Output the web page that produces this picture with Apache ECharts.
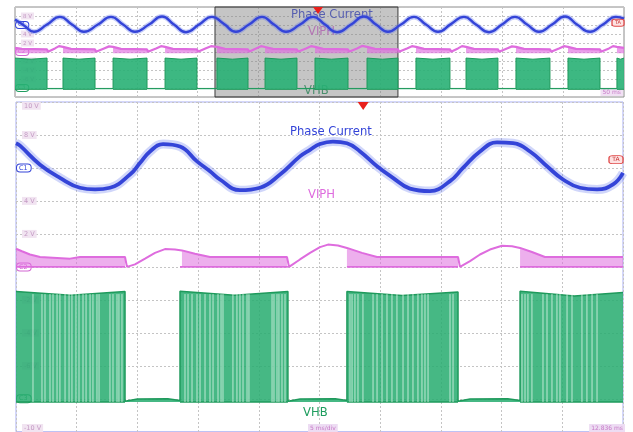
<!DOCTYPE html>
<html><head><meta charset="utf-8">
<script src="https://cdn.jsdelivr.net/npm/echarts@6/dist/echarts.min.js"></script>
<style>html,body{margin:0;padding:0;background:#fff;}#c{width:633px;height:432px;}</style>
</head><body><div id="c"></div>
<script>
// ===== Main window (5 ms/div, 2 V/div) =====
const channelMarkers = {6: 'C1', 0: 'C2', '-8': 'C3'};
const triggerLevel = 6.5;        // V (TA marker)
const triggerTime = 28.6;        // ms (main window)
const mainTimeMax = 50;

const phaseTime = [0,0.33,1.98,3.62,5.27,6.51,7.74,9.39,10.21,11.04,12.11,13.51,14.91,15.98,16.80,18.45,20.10,21.75,23.39,24.22,25.04,26.11,27.26,28.34,29.74,31.05,32.45,34.10,35.75,36.82,38.22,39.62,40.94,42.34,43.74,45.06,46.46,47.86,49.18,50];
const phaseCurrent = [7.5,7.35,6.2,5.4,4.8,4.7,4.8,5.6,6.3,7.0,7.45,7.3,6.4,5.8,5.3,4.65,4.8,5.6,6.7,7.1,7.45,7.6,7.5,7.0,6.1,5.4,4.75,4.6,5.2,6.0,7.0,7.55,7.5,7.0,6.1,5.3,4.8,4.7,5.0,5.7];

const viphTime = [0,0.49,1.15,1.98,4.45,5.27,8.98,9.14,9.80,10.63,11.45,12.27,13.10,13.67,14.74,15.98,22.32,22.49,23.39,24.22,25.04,25.70,26.52,27.26,28.50,29.74,36.41,36.57,37.40,38.22,39.04,40.03,40.86,41.52,42.50,43.57,50];
const viphValue = [1.1,0.95,0.75,0.6,0.5,0.6,0.6,0.0,0.15,0.5,0.85,1.08,1.05,1.0,0.8,0.6,0.6,0.0,0.45,0.85,1.2,1.35,1.3,1.15,0.85,0.6,0.6,0.0,0.35,0.75,1.05,1.28,1.25,1.15,0.9,0.6,0.6];

const vhbBlockStart = [0, 13.51, 27.26, 41.52];
const vhbBlockEnd = [8.98, 22.40, 36.41, 50];
const vhbTime = [0,4.5,8.98,8.98,10.0,12.5,13.51,13.51,18.0,22.40,22.40,23.4,26.3,27.26,27.26,31.8,36.41,36.41,37.4,40.5,41.52,41.52,46.0,50];
const vhbValue = [-1.5,-1.72,-1.5,-8.15,-8.02,-8.0,-8.1,-1.48,-1.72,-1.5,-8.15,-8.02,-8.0,-8.1,-1.5,-1.74,-1.52,-8.15,-8.02,-8.0,-8.1,-1.48,-1.76,-1.55];
const vhbFloor = -8.2;
const vhbStripeTop = -1.65;
const vhbStripeTimes = [1.40,2.14,2.39,2.80,3.05,3.38,3.62,4.04,4.37,4.61,4.94,5.19,5.52,5.77,6.10,6.34,6.67,6.84,7.74,7.99,8.32,8.48,8.73,
  13.92,14.17,14.50,14.91,15.16,15.57,15.98,16.23,16.64,16.89,17.05,17.87,18.20,18.45,18.70,19.03,19.19,21.09,21.25,21.50,21.66,21.91,22.16,
  27.51,27.68,27.92,28.17,28.58,29.41,29.74,30.15,30.56,30.97,31.38,31.88,32.29,32.70,33.11,33.44,33.69,33.94,35.75,36.00,
  41.68,41.93,42.17,42.50,43.41,43.74,44.15,44.56,44.81,45.39,45.80,46.62,47.03,47.45,47.86];

// ===== Overview (50 ms/div) =====
const ovTimeMax = 500;
const ovWindowStart = 164.2, ovWindowEnd = 314.4;
const ovTriggerTime = 248.8;
const ovPhaseTime = [0,7.4,15.6,26.3,36.9,46.8,56.6,68.1,78.8,88.7,98.5,110.0,120.7,130.5,140.4,151.1,161.7,171.6,181.4,192.1,202.8,212.6,222.5,234.0,244.7,254.5,264.4,275.9,286.5,296.4,306.2,316.9,327.6,337.4,347.3,357.9,368.6,378.5,389.2,399.8,410.5,420.4,430.2,440.9,451.6,461.4,472.1,482.7,493.4,500];
const ovPhaseCurrent = [7.2,5.9,4.5,6.1,7.8,6.1,4.5,6.1,7.8,6.1,4.5,6.1,7.9,6.1,4.4,6.1,7.8,6.2,4.5,6.1,7.8,6.1,4.5,6.1,7.8,6.1,4.4,6.1,7.9,6.1,4.5,6.1,7.8,6.1,4.5,6.2,7.8,6.1,4.4,6.1,7.8,6.1,4.5,6.1,7.9,6.1,4.5,6.1,7.8,7.4];
const ovViphTime = [0,5.7,26.3,27.1,32.8,36.1,39.4,46.0,65.7,66.5,73.1,77.2,80.5,87.0,108.4,109.2,115.8,119.9,123.2,129.7,149.4,150.2,156.8,160.9,165.8,172.4,191.3,192.1,197.9,202.0,205.3,211.8,231.5,232.3,238.9,243.0,246.3,252.9,273.4,274.2,280.8,284.9,289.0,295.6,314.4,315.3,321.8,325.9,329.2,335.8,357.1,358.0,363.7,367.0,370.3,376.8,396.5,397.4,403.9,408.0,411.3,417.9,439.2,440.1,446.6,450.7,454.0,460.6,480.3,481.1,487.7,491.0,494.2,500];
const ovViphValue = [0.9,0.7,
  0.6,0.05,0.8,1.3,1.15,0.7, 0.6,0.05,0.8,1.25,1.15,0.7, 0.6,0.05,0.8,1.3,1.15,0.7, 0.6,0.05,0.85,1.3,1.15,0.7,
  0.6,0.05,0.8,1.3,1.1,0.7, 0.6,0.05,0.8,1.3,1.15,0.7, 0.6,0.05,0.8,1.35,1.15,0.7, 0.6,0.05,0.8,1.3,1.15,0.7,
  0.6,0.05,0.8,1.3,1.15,0.7, 0.6,0.05,0.8,1.25,1.15,0.7, 0.6,0.05,0.8,1.3,1.15,0.7, 0.6,0.05,0.8,1.3,1.15,0.9];
const ovBlockStart = [0,39.4,80.5,123.2,165.8,205.3,246.3,289.0,329.2,370.3,411.3,454.0,494.2];
const ovBlockEnd = [26.3,65.7,108.4,149.4,191.3,231.5,273.4,314.4,357.1,396.5,439.2,480.3,500];
const ovTopEdge = -1.35, ovTopMid = -1.6, ovGapLevel = -8.1, ovFloor = -8.3;

// ===== build helpers =====
const FONT = 'DejaVu Sans';
const BLUE = '#3444d8', PINK = '#de6cde', GREEN_LINE = '#1f9a5c';
function pairs(xs, ys){ return xs.map((x,i)=>[x, ys[i]]); }
function inBlocks(t, s, e){ for (let i=0;i<s.length;i++){ if (t>=s[i]-1e-6 && t<=e[i]+1e-6) return true; } return false; }
function bandData(xs, ys, s, e){ return xs.map((x,i)=> inBlocks(x,s,e) ? [x, ys[i]] : [x, '-']); }
function floorData(s, e, lvl){ const d=[]; s.forEach((v,i)=>{ d.push([v,lvl],[e[i],lvl],[e[i],'-']); }); return d; }
function stripeData(ts, lo, hi){ const d=[]; ts.forEach(t=>{ d.push([t,lo],[t,hi],[t,'-']); }); return d; }
function ovVhbData(){ const d=[]; ovBlockStart.forEach((s,i)=>{ const e=ovBlockEnd[i];
  if (i>0) d.push([s, ovGapLevel]);
  d.push([s, ovTopEdge],[(s+e)/2, ovTopMid],[e, ovTopEdge]);
  if (i<ovBlockStart.length-1) d.push([e, ovGapLevel]); }); return d; }

function richFor(fs){
  const mk = (c)=>({color:c, backgroundColor:'#fff', borderColor:c, borderWidth:1, borderRadius:3, fontSize:fs, padding:[0,3,0,2], fontFamily:FONT, lineHeight:fs+1});
  return {
    sp:{width:5, fontSize:fs},
    lab:{color:'#c49ac4', backgroundColor:'#f1e4f1', fontSize:fs, padding:[1,2,0,2], fontFamily:FONT, lineHeight:fs+1},
    C1: mk(BLUE), C2: mk('#d266d2'), C3: mk('#1f9d5f')
  };
}
function yLabel(v){ const m = channelMarkers[v]; if (m) return '{' + m + '|' + m + '}'; return '{sp| }{lab|' + v + ' V}'; }

const dotted = {show:true, lineStyle:{color:'#c4c4c4', type:[2,2], width:1}};
function xAxis(g, max, step){ return {gridIndex:g, type:'value', min:0, max:max, interval:step, axisLine:{show:false}, axisTick:{show:false}, axisLabel:{show:false}, splitLine:dotted}; }
function yAxis(g, fs){ return {gridIndex:g, type:'value', min:-10, max:10, interval:2, axisLine:{show:false}, axisTick:{show:false}, splitLine:dotted,
  axisLabel:{inside:true, margin:1, formatter:yLabel, rich:richFor(fs), verticalAlignMaxLabel:'top', verticalAlignMinLabel:'bottom'}}; }

const noSym = {showSymbol:false, symbol:'none', animation:false, silent:true};

const option = {
  animation:false,
  backgroundColor:'#ffffff',
  grid:[
    {left:15, top:7, width:609, height:90, show:true, borderColor:'#8c8c8c', borderWidth:1},
    {left:16, top:102, width:607, height:332, show:true, borderColor:'#a9aef2', borderWidth:1}
  ],
  xAxis:[xAxis(0, ovTimeMax, 50), xAxis(1, mainTimeMax, 5)],
  yAxis:[yAxis(0, 5.5), yAxis(1, 6.5)],
  graphic:[
    {type:'text', z:1, left:291, top:9, style:{text:'Phase Current', fill:BLUE, font:'11.6px "DejaVu Sans"'}},
    {type:'text', z:1, left:308, top:26, style:{text:'VIPH', fill:PINK, font:'11.6px "DejaVu Sans"'}},
    {type:'text', z:1, left:304, top:85, style:{text:'VHB', fill:'#1f9d5f', font:'11.6px "DejaVu Sans"'}},
    {type:'text', z:1, right:10, top:88, style:{text:'50 ms', fill:'#c77ac7', font:'6px "DejaVu Sans"', backgroundColor:'#f1e0f4', padding:[1,2]}},
    {type:'text', z:1, left:290, top:126, style:{text:'Phase Current', fill:BLUE, font:'11.6px "DejaVu Sans"'}},
    {type:'text', z:1, left:308, top:189, style:{text:'VIPH', fill:PINK, font:'11.6px "DejaVu Sans"'}},
    {type:'text', z:1, left:303, top:407, style:{text:'VHB', fill:'#1f9d5f', font:'11.6px "DejaVu Sans"'}},
    {type:'text', z:20, left:308, top:424, style:{text:'5 ms/div', fill:'#c77ac7', font:'6px "DejaVu Sans"', backgroundColor:'#eddcf3', padding:[1,2]}},
    {type:'text', z:20, right:8, top:424, style:{text:'12.836 ms', fill:'#c77ac7', font:'6px "DejaVu Sans"', backgroundColor:'#eddcf3', padding:[1,2]}}
  ],
  series:[
    // ---------- overview ----------
    Object.assign({type:'line', xAxisIndex:0, yAxisIndex:0, z:2, data:ovVhbData(),
      lineStyle:{color:GREEN_LINE, width:1}, areaStyle:{color:'rgba(40,176,116,0.9)', origin:ovFloor, opacity:1}}, noSym),
    Object.assign({type:'line', xAxisIndex:0, yAxisIndex:0, z:2, data:floorData(ovBlockStart, ovBlockEnd, ovFloor),
      lineStyle:{color:GREEN_LINE, width:1}}, noSym),
    Object.assign({type:'line', xAxisIndex:0, yAxisIndex:0, z:3, data:bandData(ovViphTime, ovViphValue, ovBlockStart, ovBlockEnd),
      lineStyle:{width:0}, areaStyle:{color:'rgba(222,108,222,0.92)', origin:-0.3}}, noSym),
    Object.assign({type:'line', xAxisIndex:0, yAxisIndex:0, z:3, data:pairs(ovViphTime, ovViphValue),
      lineStyle:{color:PINK, width:2.2}}, noSym),
    Object.assign({type:'line', xAxisIndex:0, yAxisIndex:0, z:4, smooth:0.5, data:pairs(ovPhaseTime, ovPhaseCurrent),
      lineStyle:{color:'rgba(95,115,235,0.35)', width:5}}, noSym),
    Object.assign({type:'line', xAxisIndex:0, yAxisIndex:0, z:4, smooth:0.5, data:pairs(ovPhaseTime, ovPhaseCurrent),
      lineStyle:{color:BLUE, width:2.4},
      markPoint:{silent:true, animation:false, data:[
        {coord:[ovTriggerTime, 10], symbol:'triangle', symbolRotate:180, symbolSize:[10,7], symbolOffset:[0,3.5], itemStyle:{color:'#e8201c'}, label:{show:false}},
        {coord:[ovTimeMax, triggerLevel], symbol:'roundRect', symbolSize:[12,7], symbolOffset:[-6,0], itemStyle:{color:'#fde2e2', borderColor:'#e04a4a', borderWidth:1}, label:{show:true, formatter:'TA', color:'#c83232', fontSize:5, fontFamily:FONT}}
      ]}}, noSym),
    Object.assign({type:'line', xAxisIndex:0, yAxisIndex:0, z:10, data:[[ovWindowStart,'-']], lineStyle:{width:0},
      markArea:{silent:true, animation:false, itemStyle:{color:'rgba(128,128,128,0.46)', borderColor:'#3a3a3a', borderWidth:1},
        data:[[{xAxis:ovWindowStart}, {xAxis:ovWindowEnd}]]}}, noSym),
    // ---------- main ----------
    Object.assign({type:'line', xAxisIndex:1, yAxisIndex:1, z:2, data:pairs(vhbTime, vhbValue),
      lineStyle:{color:GREEN_LINE, width:1.5}, areaStyle:{color:'rgba(40,172,112,0.86)', origin:vhbFloor, opacity:1}}, noSym),
    Object.assign({type:'line', xAxisIndex:1, yAxisIndex:1, z:2, data:floorData(vhbBlockStart, vhbBlockEnd, vhbFloor),
      lineStyle:{color:GREEN_LINE, width:1.5}}, noSym),
    Object.assign({type:'line', xAxisIndex:1, yAxisIndex:1, z:2, data:stripeData(vhbStripeTimes, vhbFloor, vhbStripeTop),
      lineStyle:{color:'rgba(232,250,240,0.75)', width:1}}, noSym),
    Object.assign({type:'line', xAxisIndex:1, yAxisIndex:1, z:3, data:bandData(viphTime, viphValue, vhbBlockStart, vhbBlockEnd),
      lineStyle:{width:0}, areaStyle:{color:'rgba(222,108,222,0.78)', origin:0}}, noSym),
    Object.assign({type:'line', xAxisIndex:1, yAxisIndex:1, z:3, data:floorData(vhbBlockStart, vhbBlockEnd, 0),
      lineStyle:{color:PINK, width:1.6}}, noSym),
    Object.assign({type:'line', xAxisIndex:1, yAxisIndex:1, z:3, data:pairs(viphTime, viphValue),
      lineStyle:{color:PINK, width:2}}, noSym),
    Object.assign({type:'line', xAxisIndex:1, yAxisIndex:1, z:4, smooth:0.45, data:pairs(phaseTime, phaseCurrent),
      lineStyle:{color:'rgba(100,120,240,0.3)', width:9}}, noSym),
    Object.assign({type:'line', xAxisIndex:1, yAxisIndex:1, z:4, smooth:0.45, data:pairs(phaseTime, phaseCurrent),
      lineStyle:{color:BLUE, width:3.8},
      markPoint:{silent:true, animation:false, data:[
        {coord:[triggerTime, 10], symbol:'triangle', symbolRotate:180, symbolSize:[11,8], symbolOffset:[0,4], itemStyle:{color:'#e8201c'}, label:{show:false}},
        {coord:[mainTimeMax, triggerLevel], symbol:'roundRect', symbolSize:[14,8], symbolOffset:[-7,0], itemStyle:{color:'#fde2e2', borderColor:'#e04a4a', borderWidth:1}, label:{show:true, formatter:'TA', color:'#c83232', fontSize:6, fontFamily:FONT}}
      ]}}, noSym)
  ]
};
const chart = echarts.init(document.getElementById('c'));
chart.setOption(option);
</script>
</body></html>
